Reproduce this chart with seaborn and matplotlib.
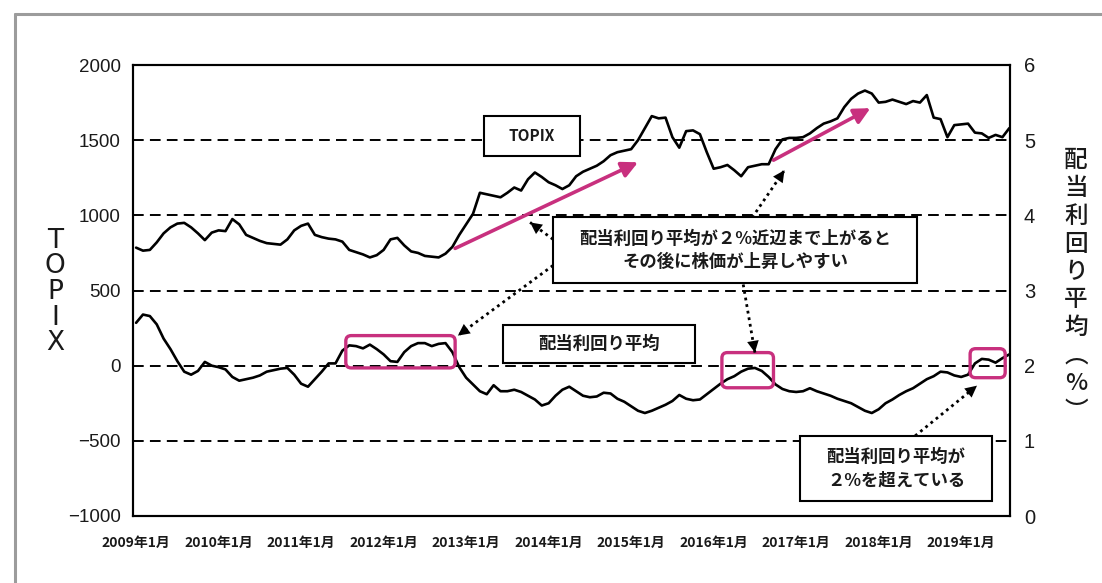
import numpy as np
import pandas as pd
import matplotlib
matplotlib.use("Agg")
import matplotlib.pyplot as plt
import seaborn as sns
from matplotlib.patches import FancyBboxPatch, Rectangle
from matplotlib.lines import Line2D

# ---------------- data (monthly, Jan 2009 .. Aug 2019) ----------------
topix = [785, 765, 770, 820, 880, 920, 945, 950, 920, 880, 835, 885,
         900, 895, 975, 940, 870, 850, 830, 815, 810, 805, 840, 900,
         930, 945, 870, 855, 845, 840, 825, 770, 755, 740, 720, 735,
         770, 840, 850, 800, 760, 750, 730, 725, 720, 745, 790, 870,
         940, 1010, 1150, 1140, 1130, 1120, 1150, 1185, 1165, 1240, 1285, 1255,
         1220, 1200, 1175, 1200, 1260, 1290, 1310, 1330, 1360, 1400, 1420, 1430,
         1440, 1500, 1580, 1660, 1645, 1650, 1520, 1450, 1560, 1565, 1540, 1420,
         1310, 1320, 1335, 1300, 1260, 1320, 1330, 1340, 1340, 1440, 1505, 1515,
         1515, 1520, 1545, 1580, 1610, 1625, 1645, 1720, 1775, 1810, 1830, 1810,
         1750, 1755, 1770, 1755, 1740, 1760, 1750, 1800, 1650, 1640, 1520, 1600,
         1605, 1610, 1550, 1545, 1515, 1535, 1520, 1580]

yield_avg = [2.57, 2.68, 2.66, 2.55, 2.36, 2.22, 2.06, 1.92, 1.88, 1.93, 2.05, 2.00,
             1.98, 1.95, 1.85, 1.80, 1.82, 1.84, 1.87, 1.92, 1.94, 1.96, 1.97, 1.88,
             1.76, 1.72, 1.82, 1.92, 2.03, 2.03, 2.20, 2.27, 2.26, 2.23, 2.28, 2.22,
             2.15, 2.06, 2.05, 2.18, 2.26, 2.30, 2.30, 2.26, 2.29, 2.30, 2.18, 1.98,
             1.84, 1.75, 1.66, 1.62, 1.74, 1.66, 1.66, 1.68, 1.65, 1.60, 1.55, 1.47,
             1.50, 1.60, 1.68, 1.72, 1.66, 1.60, 1.58, 1.59, 1.64, 1.63, 1.56, 1.52,
             1.46, 1.40, 1.37, 1.40, 1.44, 1.48, 1.53, 1.61, 1.56, 1.54, 1.55, 1.62,
             1.69, 1.76, 1.82, 1.86, 1.92, 1.96, 1.97, 1.93, 1.85, 1.75, 1.69, 1.66,
             1.65, 1.66, 1.70, 1.66, 1.63, 1.60, 1.56, 1.53, 1.50, 1.45, 1.40, 1.37,
             1.42, 1.50, 1.55, 1.61, 1.66, 1.70, 1.76, 1.82, 1.86, 1.92, 1.91, 1.87,
             1.85, 1.88, 2.03, 2.09, 2.08, 2.04, 2.10, 2.15]

tick_years = list(range(2009, 2020))
tick_labels = [f"{y}年1月" for y in tick_years]
left_ticks = [-1000, -500, 0, 500, 1000, 1500, 2000]
right_ticks = [0, 1, 2, 3, 4, 5, 6]

df = pd.DataFrame({"month": np.arange(len(topix)), "topix": topix, "yield": yield_avg})

# ---------------- style ----------------
sns.set_theme(style="white")
plt.rcParams["font.family"] = ["Noto Sans CJK JP", "DejaVu Sans"]
plt.rcParams["axes.unicode_minus"] = True

W, H = 1102, 583
fig = plt.figure(figsize=(W / 100, H / 100), dpi=100)
ax = fig.add_axes([133 / W, 1 - 516 / H, (1010 - 133) / W, (516 - 65) / H])
ax2 = ax.twinx()

MAG = "#c8307e"
INK = "#1a1a1a"

# gridlines
for v in [1500, 1000, 500, 0, -500]:
    ax.axhline(v, color="black", lw=1.4, ls=(0, (5.5, 3.2)), zorder=1)

sns.lineplot(data=df, x="month", y="topix", ax=ax, color="black", lw=1.9, zorder=3)
sns.lineplot(data=df, x="month", y="yield", ax=ax2, color="black", lw=1.9, zorder=3)

ax.set_xlim(-0.45, 127.1)
ax.set_ylim(-1000, 2000)
ax2.set_ylim(0, 6)
ax.set_xlabel("")
ax.set_ylabel("")
ax2.set_ylabel("")

ax.set_xticks([12 * (y - 2009) for y in tick_years])
ax.set_xticklabels(tick_labels, fontsize=10, fontweight="bold",
                   family=["Noto Sans CJK JP"])
ax.set_yticks(left_ticks)
ax.set_yticklabels([f"{t}".replace("-", "\u2212") for t in left_ticks],
                   fontsize=13.5, family=["Liberation Sans", "DejaVu Sans"])
ax2.set_yticks(right_ticks)
ax2.set_yticklabels([str(t) for t in right_ticks], fontsize=14.5,
                    family=["Liberation Sans", "DejaVu Sans"])
ax.tick_params(axis="both", length=0, pad=9, colors=INK)
ax2.tick_params(axis="y", length=0, pad=10, colors=INK)
ax.tick_params(axis="x", pad=14)

for a in (ax, ax2):
    for s in a.spines.values():
        s.set_color("black")
        s.set_linewidth(1.5)

ax.set_zorder(ax2.get_zorder() + 1)
ax.patch.set_visible(False)

# axis titles (vertical)
fig.text(55 / W, 1 - 292 / H, "T\nO\nP\nI\nX", ha="center", va="center",
         fontsize=19, linespacing=0.98, family=["DejaVu Sans"], color=INK)
fig.text(1076 / W, 1 - 286 / H, "配\n当\n利\n回\nり\n平\n均\n︵\n%\n︶", ha="center",
         va="center", fontsize=17, linespacing=1.27, color=INK, fontweight="medium")

# outer frame
fig.add_artist(Line2D([15 / W, 15 / W], [0, 1 - 14 / H], color="#9c9c9c", lw=2.2))
fig.add_artist(Line2D([15 / W, 1], [1 - 14 / H, 1 - 14 / H], color="#9c9c9c", lw=2.2))

# aspect for rounded boxes in data coordinates
px_per_month = (1010 - 133) / (127.1 + 0.45)
px_per_unit = (516 - 65) / 3000
asp = px_per_month / px_per_unit


def mag_box(x0, x1, y0, y1):
    p = FancyBboxPatch((x0, y0), x1 - x0, y1 - y0,
                       boxstyle="round,pad=0,rounding_size=0.8",
                       mutation_aspect=asp, fc="none", ec=MAG, lw=2.4, zorder=4)
    ax.add_patch(p)


mag_box(30.5, 46.4, -15, 200)
mag_box(85.2, 92.7, -147, 87)
mag_box(121.3, 126.4, -80, 113)


def text_box(x0, x1, y0, y1, txt, fs, ls=1.4):
    ax.add_patch(Rectangle((x0, y0), x1 - x0, y1 - y0, fc="white", ec="black",
                           lw=1.5, zorder=5))
    ax.text((x0 + x1) / 2, (y0 + y1) / 2, txt, ha="center", va="center",
            fontsize=fs, fontweight="bold", color=INK, linespacing=ls,
            zorder=6)


text_box(50.6, 64.6, 1393, 1660, "TOPIX", 11)
text_box(60.7, 113.6, 547, 987, "配当利回り平均が２%近辺まで上がると\nその後に株価が上昇しやすい", 12.5)
text_box(53.4, 81.3, 20, 273, "配当利回り平均", 12.5)
text_box(96.6, 124.5, -900, -467, "配当利回り平均が\n２%を超えている", 12.5)


def mag_arrow(x0, y0, x1, y1):
    ax.annotate("", xy=(x1, y1), xytext=(x0, y0),
                arrowprops=dict(arrowstyle="-|>,head_length=0.8,head_width=0.4",
                                color=MAG, lw=2.6, shrinkA=0, shrinkB=0),
                zorder=4)


def dot_arrow(x0, y0, x1, y1):
    # dotted shaft
    ax.plot([x0, x1], [y0, y1], color="black", lw=2.0, ls=(0, (1, 1.4)), zorder=4)
    # solid arrow head at the tip
    f = 0.12 if np.hypot((x1 - x0) * asp, y1 - y0) > 300 else 0.3
    ax.annotate("", xy=(x1, y1), xytext=(x1 - f * (x1 - x0), y1 - f * (y1 - y0)),
                arrowprops=dict(arrowstyle="-|>,head_length=0.7,head_width=0.35",
                                color="black", lw=0.01, shrinkA=0, shrinkB=0),
                zorder=4)


mag_arrow(46.4, 780, 73.0, 1353)
mag_arrow(92.7, 1367, 106.8, 1713)

dot_arrow(60.65, 840, 57.3, 953)
dot_arrow(60.65, 667, 46.8, 200)
dot_arrow(89.6, 985, 94.3, 1300)
dot_arrow(88.3, 540, 90.0, 87)
dot_arrow(113.3, -467, 122.3, -133)

fig.savefig("out.png", dpi=100, facecolor="white")
